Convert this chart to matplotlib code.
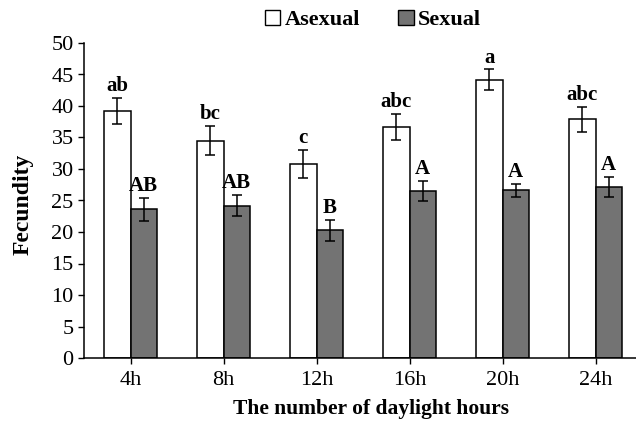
import matplotlib
matplotlib.use("Agg")
import matplotlib.pyplot as plt
import numpy as np
from matplotlib.patches import Patch

categories = ["4h", "8h", "12h", "16h", "20h", "24h"]
asexual = [39.2, 34.5, 30.8, 36.7, 44.2, 37.9]
asexual_se = [2.0, 2.35, 2.15, 2.05, 1.6, 1.95]
sexual = [23.6, 24.2, 20.3, 26.5, 26.6, 27.2]
sexual_se = [1.85, 1.65, 1.65, 1.55, 1.0, 1.6]
asexual_letters = ["ab", "bc", "c", "abc", "a", "abc"]
sexual_letters = ["AB", "AB", "B", "A", "A", "A"]
yticks = list(range(0, 55, 5))

plt.rcParams['font.family'] = ['Liberation Serif', 'DejaVu Serif']

W, H = 636, 423
fig = plt.figure(figsize=(W / 100, H / 100), dpi=100)
ax = fig.add_axes([84 / W, (H - 358) / H, (642 - 84) / W, (358 - 43) / H])

x = np.arange(len(categories))
bw = 0.285
gray = "#737373"

ax.bar(x - bw / 2, asexual, bw, color="white", edgecolor="black", linewidth=1.1, zorder=2)
ax.bar(x + bw / 2, sexual, bw, color=gray, edgecolor="black", linewidth=1.1, zorder=2)
ekw = dict(fmt="none", ecolor="black", elinewidth=1.1, capsize=3.8, capthick=1.1, zorder=3)
ax.errorbar(x - bw / 2, asexual, yerr=asexual_se, **ekw)
ax.errorbar(x + bw / 2, sexual, yerr=sexual_se, **ekw)

for xi, v, e, t in zip(x - bw / 2, asexual, asexual_se, asexual_letters):
    ax.annotate(t, (xi, v + e), xytext=(0, 5), textcoords="offset points",
                ha="center", va="baseline", fontsize=15, fontweight="bold")
for xi, v, e, t in zip(x + bw / 2, sexual, sexual_se, sexual_letters):
    ax.annotate(t, (xi, v + e), xytext=(0, 5), textcoords="offset points",
                ha="center", va="baseline", fontsize=15, fontweight="bold")

ax.set_xlim(-0.5, 5.5)
ax.set_ylim(0, 50)
ax.set_xticks(x)
ax.set_xticklabels(categories, fontsize=16)
ax.set_yticks(yticks)
ax.set_yticklabels([str(t) for t in yticks], fontsize=16)
ax.tick_params(axis="both", direction="out", length=4.5, width=1.0, color="black")
ax.tick_params(axis="x", pad=5)
ax.tick_params(axis="y", pad=3)
for s in ["top", "right"]:
    ax.spines[s].set_visible(False)
for s in ["left", "bottom"]:
    ax.spines[s].set_linewidth(1.1)

ax.set_ylabel("Fecundity", fontsize=17, fontweight="bold")
ax.yaxis.set_label_coords(-(84 - 34) / (642 - 84), (358 - 204) / (358 - 43))
fig.text(371 / W, 1 - 409 / H, "The number of daylight hours", ha="center", va="center",
         fontsize=15.5, fontweight="bold")

handles = [Patch(facecolor="white", edgecolor="black", linewidth=1.0, label="Asexual"),
           Patch(facecolor=gray, edgecolor="black", linewidth=1.0, label="Sexual")]
fig.legend(handles=handles, loc="center", bbox_to_anchor=(373 / W, 1 - 20 / H), ncol=2,
           frameon=False, handlelength=0.7, handleheight=0.7, handletextpad=0.2,
           columnspacing=1.7, prop={"size": 16, "weight": "bold"})

fig.savefig("out.png", dpi=100)
